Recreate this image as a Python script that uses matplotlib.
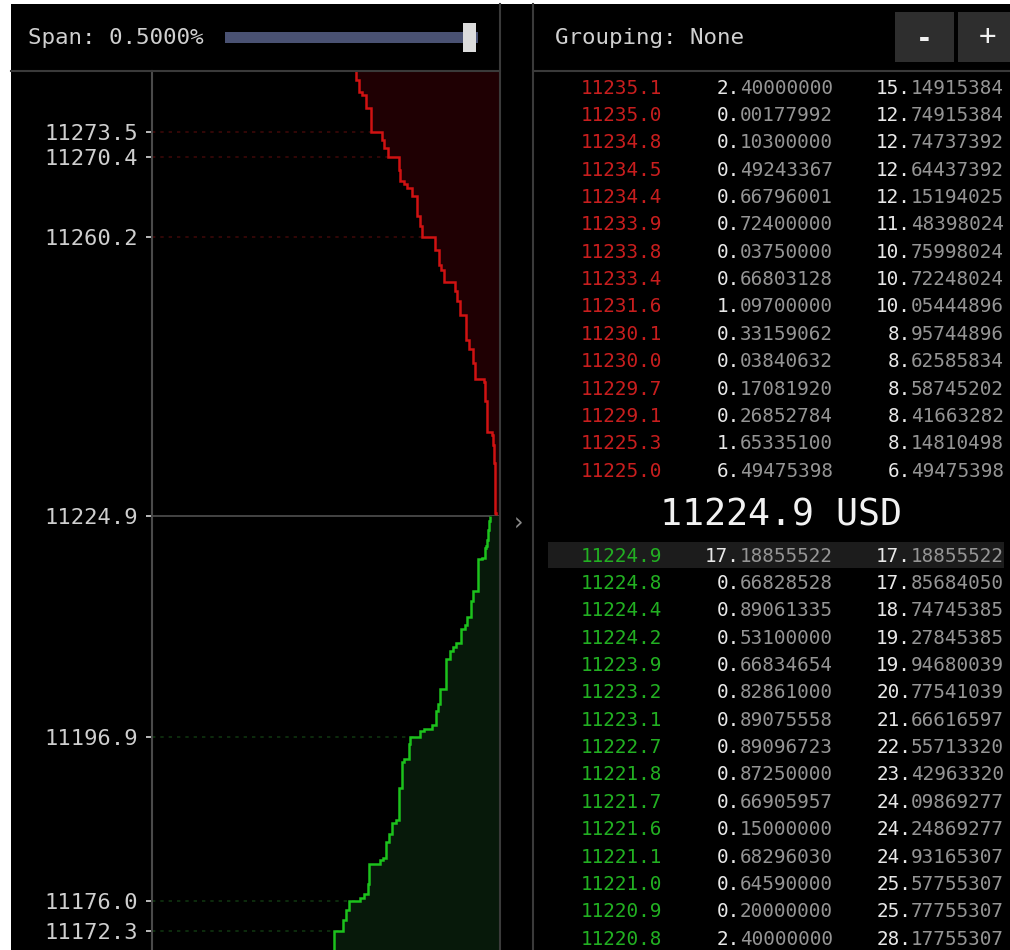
import numpy as np
import matplotlib
matplotlib.use("Agg")
import matplotlib.pyplot as plt
from matplotlib.patches import Rectangle

# ---------------- data ----------------
mid_price = 11224.9
span_text = "Span: 0.5000%"
grouping_text = "Grouping: None"

# order book table (display order, top to bottom)
ask_tbl_price = [11235.1, 11235.0, 11234.8, 11234.5, 11234.4, 11233.9, 11233.8, 11233.4,
                 11231.6, 11230.1, 11230.0, 11229.7, 11229.1, 11225.3, 11225.0]
ask_tbl_amount = [2.40000000, 0.00177992, 0.10300000, 0.49243367, 0.66796001, 0.72400000,
                  0.03750000, 0.66803128, 1.09700000, 0.33159062, 0.03840632, 0.17081920,
                  0.26852784, 1.65335100, 6.49475398]
ask_tbl_total = [15.14915384, 12.74915384, 12.74737392, 12.64437392, 12.15194025, 11.48398024,
                 10.75998024, 10.72248024, 10.05444896, 8.95744896, 8.62585834, 8.58745202,
                 8.41663282, 8.14810498, 6.49475398]

bid_tbl_price = [11224.9, 11224.8, 11224.4, 11224.2, 11223.9, 11223.2, 11223.1, 11222.7,
                 11221.8, 11221.7, 11221.6, 11221.1, 11221.0, 11220.9, 11220.8]
bid_tbl_amount = [17.18855522, 0.66828528, 0.89061335, 0.53100000, 0.66834654, 0.82861000,
                  0.89075558, 0.89096723, 0.87250000, 0.66905957, 0.15000000, 0.68296030,
                  0.64590000, 0.20000000, 2.40000000]
bid_tbl_total = [17.18855522, 17.85684050, 18.74745385, 19.27845385, 19.94680039, 20.77541039,
                 21.66616597, 22.55713320, 23.42963320, 24.09869277, 24.24869277, 24.93165307,
                 25.57755307, 25.77755307, 28.17755307]

# deeper levels only visible in the depth chart (price, cumulative size)
ask_far_price = [11235.5, 11239.4, 11241.8, 11242.3, 11244.3, 11246.0, 11247.2, 11250.4,
                 11252.1, 11253.4, 11254.5, 11256.1, 11256.7, 11258.6, 11260.2, 11261.6,
                 11262.9, 11265.5, 11266.4, 11266.9, 11267.4, 11268.8, 11270.4, 11271.5,
                 11272.6, 11273.5, 11276.6, 11278.3, 11278.6, 11280.2]
ask_far_total = [23.4, 26.6, 29.8, 46.9, 50.0, 58.3, 62.7, 74.1,
                 80.4, 83.6, 105.8, 110.2, 115.3, 121.6, 146.9, 151.4,
                 156.4, 165.9, 175.4, 182.0, 188.1, 191.3, 212.2, 219.8,
                 222.9, 243.8, 252.7, 260.0, 267.3, 271.5]

bid_far_price = [11219.5, 11219.4, 11215.3, 11214.1, 11212.1, 11211.0, 11210.6, 11208.8,
                 11208.2, 11207.8, 11206.7, 11202.9, 11201.0, 11200.2, 11198.4, 11197.9,
                 11197.6, 11196.9, 11195.9, 11194.0, 11193.7, 11190.4, 11186.3, 11185.9,
                 11184.6, 11183.5, 11181.5, 11181.2, 11180.8, 11178.2, 11176.9, 11176.4,
                 11176.0, 11174.9, 11173.6, 11172.3]
bid_far_total = [34.0, 41.2, 50.0, 53.2, 61.4, 66.0, 72.8, 81.7,
                 88.0, 93.1, 101.3, 112.1, 116.5, 121.0, 129.0, 143.8,
                 151.4, 169.1, 172.3, 181.8, 184.9, 191.3, 195.7, 203.9,
                 210.3, 215.3, 221.0, 227.4, 247.0, 250.2, 256.5, 264.1,
                 286.3, 290.7, 297.7, 314.8]

ask_marks = [11273.5, 11270.4, 11260.2]
bid_marks = [11196.9, 11176.0, 11172.3]

price_lim = (11169.84, 11281.29)
depth_lim = (659.3, 0)

# ---------------- style ----------------
W, H = 1010, 950
DPI = 100
MONO = "DejaVu Sans Mono"
BORDER = "#3a3a3a"
ASK_LINE, ASK_FILL, ASK_DASH, ASK_TXT = "#d01212", "#1f0003", "#3c0808", "#c81e1e"
BID_LINE, BID_FILL, BID_DASH, BID_TXT = "#1cc21c", "#07190a", "#0f330f", "#22b022"
INT_C, DEC_C = "#e8e8e8", "#959595"

fig = plt.figure(figsize=(W / DPI, H / DPI), dpi=DPI, facecolor="white")
fig.add_artist(Rectangle((11 / W, 0), (W - 11) / W, (H - 4) / H, transform=fig.transFigure,
                         facecolor="black", edgecolor="none", zorder=-10))

# ---------------- depth chart ----------------
ax = fig.add_axes([152 / W, 0, 347.5 / W, (H - 71) / H], zorder=1)
ax.set_facecolor("black")
ax.set_ylim(*price_lim)
ax.set_xlim(*depth_lim)

ask_p = np.array(ask_tbl_price[::-1] + ask_far_price)
ask_c = np.array(ask_tbl_total[::-1] + ask_far_total)
ask_edges = np.append(ask_p, price_lim[1])
ax.stairs(ask_c, ask_edges, orientation="horizontal", baseline=0, fill=True,
          color=ASK_FILL, zorder=2)
ax.stairs(ask_c, ask_edges, orientation="horizontal", baseline=None,
          color=ASK_LINE, lw=1.8, zorder=3)

bid_p = np.array(bid_tbl_price + bid_far_price)
bid_c = np.array(bid_tbl_total + bid_far_total)
bid_edges = np.append(price_lim[0], bid_p[::-1])
ax.stairs(bid_c[::-1], bid_edges, orientation="horizontal", baseline=0, fill=True,
          color=BID_FILL, zorder=2)
ax.stairs(bid_c[::-1], bid_edges, orientation="horizontal", baseline=None,
          color=BID_LINE, lw=1.8, zorder=3)

for p in ask_marks:
    ax.axhline(p, color=ASK_DASH, lw=1.2, ls=(0, (2, 3)), zorder=1)
for p in bid_marks:
    ax.axhline(p, color=BID_DASH, lw=1.2, ls=(0, (2, 3)), zorder=1)
ax.axhline(mid_price, color="#444444", lw=1.4, zorder=1.5)

ticks = ask_marks + [mid_price] + bid_marks
ax.set_yticks(ticks)
ax.set_yticklabels([f"{t:.1f}" for t in ticks], family=MONO, fontsize=15.9, color="#cfcfcf")
ax.tick_params(axis="y", colors="#bbbbbb", length=4.5, width=1.4, pad=5.5, labelcolor="#cfcfcf")
ax.set_xticks([])
for s in ["top", "right", "bottom"]:
    ax.spines[s].set_visible(False)
ax.spines["left"].set_color("#4a4a4a")
ax.spines["left"].set_linewidth(1.5)

# ---------------- overlay (panel chrome + order book table) ----------------
ov = fig.add_axes([0, 0, 1, 1], zorder=2)
ov.set_facecolor("none")
ov.set_xlim(0, W)
ov.set_ylim(H, 0)
ov.axis("off")

ov.plot([11, 500], [71, 71], color=BORDER, lw=1.5)
ov.plot([500, 500], [4, H], color=BORDER, lw=1.5)
ov.plot([533, W], [71, 71], color=BORDER, lw=1.5)
ov.plot([533, 533], [4, H], color=BORDER, lw=1.5)

# left header: span + slider
ov.text(28, 44, span_text, family=MONO, fontsize=16.2, color="#d0d0d0", ha="left", va="baseline")
ov.add_patch(Rectangle((225, 32), 253, 11, facecolor="#4a5273", edgecolor="none"))
ov.add_patch(Rectangle((463, 23), 13, 29, facecolor="#dcdcdc", edgecolor="none"))

# right header: grouping + buttons
ov.text(555, 44, grouping_text, family=MONO, fontsize=16.2, color="#d0d0d0", ha="left", va="baseline")
ov.add_patch(Rectangle((895, 12), 59, 50, facecolor="#2e2e2e", edgecolor="none"))
ov.add_patch(Rectangle((958, 12), 60, 50, facecolor="#2e2e2e", edgecolor="none"))
ov.text(924.5, 39, "-", family=MONO, fontsize=20, color="#f0f0f0", ha="center", va="center",
        fontweight="bold")
ov.text(987, 37, "+", family=MONO, fontsize=21, color="#f0f0f0", ha="center", va="center")

# collapse arrow
ov.text(518, 524, "\u203a", family="DejaVu Sans", fontsize=17, color="#8a8a8a",
        ha="center", va="center")

COL_PRICE, COL_AMT, COL_TOT = 662, 833, 1004
FS = 13.9
CW = 0.60205 * FS * DPI / 72.0


def split_num(x_right, y_base, value):
    s = f"{value:.8f}"
    k = s.index(".") + 1
    dec = s[k:]
    ov.text(x_right, y_base, dec, family=MONO, fontsize=FS, color=DEC_C, ha="right", va="baseline")
    ov.text(x_right - len(dec) * CW, y_base, s[:k], family=MONO, fontsize=FS, color=INT_C,
            ha="right", va="baseline")


ROW_H = 27.37
ASK_BASE0, BID_BASE0 = 93.5, 561.5

for i, (p, a, t) in enumerate(zip(ask_tbl_price, ask_tbl_amount, ask_tbl_total)):
    yb = ASK_BASE0 + i * ROW_H
    ov.text(COL_PRICE, yb, f"{p:.1f}", family=MONO, fontsize=FS, color=ASK_TXT, ha="right", va="baseline")
    split_num(COL_AMT, yb, a)
    split_num(COL_TOT, yb, t)

# highlighted best bid row
ov.add_patch(Rectangle((548, 542), 456, 26, facecolor="#1c1c1c", edgecolor="none", zorder=0))
for i, (p, a, t) in enumerate(zip(bid_tbl_price, bid_tbl_amount, bid_tbl_total)):
    yb = BID_BASE0 + i * ROW_H
    ov.text(COL_PRICE, yb, f"{p:.1f}", family=MONO, fontsize=FS, color=BID_TXT, ha="right", va="baseline")
    split_num(COL_AMT, yb, a)
    split_num(COL_TOT, yb, t)

ov.text(781.5, 525, f"{mid_price:.1f} USD", family=MONO, fontsize=26.4, color="#f2f2f2",
        ha="center", va="baseline")

fig.savefig("out.png", dpi=DPI, facecolor=fig.get_facecolor())
